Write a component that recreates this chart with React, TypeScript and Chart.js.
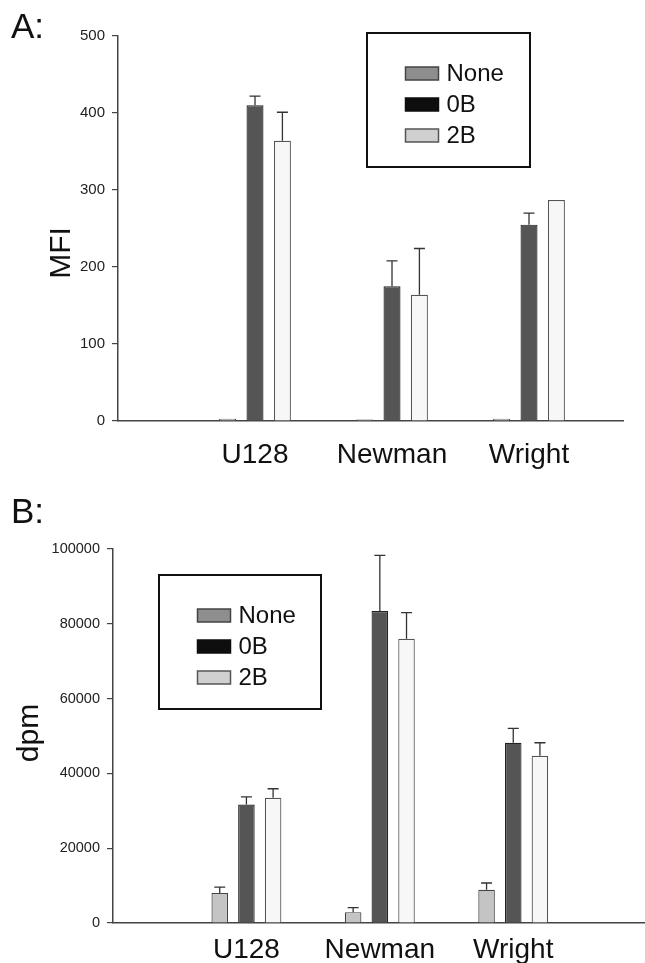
import React, { useEffect, useRef } from "react";
import { Chart, registerables } from "chart.js";

Chart.register(...registerables);

// ---- Data ----
const categories = ["U128", "Newman", "Wright"];
const seriesNames = ["None", "0B", "2B"];

// Panel A: MFI
const mfiNone = [3, 2, 3];
const mfi0B = [410, 175, 255];
const mfi2B = [364, 164, 287];
const mfiNoneErr = [0, 0, 0];
const mfi0BErr = [12, 33, 15];
const mfi2BErr = [37, 60, 0];
const mfiTicks = [0, 100, 200, 300, 400, 500];

// Panel B: dpm
const dpmNone = [8000, 2900, 8900];
const dpm0B = [31700, 83400, 48200];
const dpm2B = [33500, 76000, 44700];
const dpmNoneErr = [1600, 1200, 1800];
const dpm0BErr = [2000, 14900, 3850];
const dpm2BErr = [2400, 7000, 3500];
const dpmTicks = [0, 20000, 40000, 60000, 80000, 100000];

const xTickValues = [0, 1, 2, 3];

// ---- Styles ----
const FONT = '"Liberation Sans", Arial, Helvetica, sans-serif';
const barFill = ["#c4c4c4", "#555555", "#f7f7f7"];
const barBorder = ["#444444", "#222222", "#555555"];
const legendFill = ["#8e8e8e", "#0e0e0e", "#d0d0d0"];
const legendBorder = ["#444444", "#0e0e0e", "#555555"];

const errorBarsPlugin = {
  id: "errorBars",
  afterDatasetsDraw(chart: any, _args: any, opts: any) {
    const { ctx } = chart;
    const yScale = chart.scales.y;
    chart.data.datasets.forEach((ds: any, di: number) => {
      const errs: number[] = ds.errors;
      if (!errs) return;
      const meta = chart.getDatasetMeta(di);
      meta.data.forEach((bar: any, i: number) => {
        const e = errs[i];
        if (!e) return;
        const v = ds.data[i].y;
        const yTop = yScale.getPixelForValue(v + e);
        ctx.save();
        ctx.strokeStyle = opts.color || "#333";
        ctx.lineWidth = opts.width || 1.3;
        ctx.beginPath();
        ctx.moveTo(bar.x, bar.y);
        ctx.lineTo(bar.x, yTop);
        ctx.moveTo(bar.x - (opts.cap || 11) / 2, yTop);
        ctx.lineTo(bar.x + (opts.cap || 11) / 2, yTop);
        ctx.stroke();
        ctx.restore();
      });
    });
  },
};

const boxLegendPlugin = {
  id: "boxLegend",
  afterDraw(chart: any, _args: any, o: any) {
    const ctx = chart.ctx;
    ctx.save();
    ctx.lineWidth = 2;
    ctx.strokeStyle = "#111";
    ctx.strokeRect(o.x, o.y, o.w, o.h);
    chart.data.datasets.forEach((ds: any, i: number) => {
      const sx = o.x + 38.5;
      const sy = o.y + 34 + i * 31;
      ctx.fillStyle = legendFill[i];
      ctx.fillRect(sx, sy, 33, 13);
      ctx.strokeStyle = legendBorder[i];
      ctx.lineWidth = 1.5;
      ctx.strokeRect(sx, sy, 33, 13);
      ctx.fillStyle = "#111";
      ctx.font = `24px ${FONT}`;
      ctx.textAlign = "left";
      ctx.textBaseline = "middle";
      ctx.fillText(ds.label, sx + 41, sy + 7.5);
    });
    ctx.restore();
  },
};

const annotPlugin = {
  id: "annot",
  afterDraw(chart: any, _args: any, o: any) {
    const ctx = chart.ctx;
    (o.items || []).forEach((it: any) => {
      ctx.save();
      ctx.fillStyle = "#111";
      ctx.font = `${it.size}px ${FONT}`;
      ctx.translate(it.x, it.y);
      if (it.rotate) ctx.rotate(it.rotate);
      ctx.textAlign = it.align || "center";
      ctx.textBaseline = it.baseline || "middle";
      ctx.fillText(it.text, 0, 0);
      ctx.restore();
    });
  },
};

function makeDatasets(vals: number[][], errs: number[][]) {
  return seriesNames.map((name, s) => ({
    label: name,
    data: vals[s].map((v, i) => ({ x: i + 1, y: v })),
    errors: errs[s],
    backgroundColor: barFill[s],
    borderColor: barBorder[s],
    borderWidth: 1.2,
    categoryPercentage: 0.6,
    barPercentage: 0.62,
  }));
}

function makeConfig(p: {
  vals: number[][];
  errs: number[][];
  yTicks: number[];
  xMax: number;
  yWidth: number;
  xHeight: number;
  padTop: number;
  padRight: number;
  yFont: number;
  xPad: number;
  legend: any;
  items: any[];
}): any {
  return {
    type: "bar",
    data: { datasets: makeDatasets(p.vals, p.errs) },
    plugins: [errorBarsPlugin, boxLegendPlugin, annotPlugin],
    options: {
      responsive: true,
      maintainAspectRatio: false,
      animation: false,
      layout: { padding: { top: p.padTop, right: p.padRight, left: 0, bottom: 0 } },
      plugins: {
        legend: { display: false },
        tooltip: { enabled: false },
        errorBars: { color: "#333", width: 1.3, cap: 11 },
        boxLegend: p.legend,
        annot: { items: p.items },
      },
      scales: {
        x: {
          type: "linear",
          offset: false,
          min: 0,
          max: p.xMax,
          afterBuildTicks: (s: any) => {
            s.ticks = xTickValues.map((v) => ({ value: v }));
          },
          afterFit: (s: any) => {
            s.height = p.xHeight;
          },
          grid: { display: false, drawTicks: false, offset: false },
          border: { display: true, color: "#444", width: 1.5 },
          ticks: {
            includeBounds: false,
            autoSkip: false,
            maxRotation: 0,
            padding: p.xPad,
            color: "#111",
            font: { family: FONT, size: 28 },
            callback: (v: any) => categories[Number(v) - 1] ?? "",
          },
        },
        y: {
          min: p.yTicks[0],
          max: p.yTicks[p.yTicks.length - 1],
          afterBuildTicks: (s: any) => {
            s.ticks = p.yTicks.map((v) => ({ value: v }));
          },
          afterFit: (s: any) => {
            s.width = p.yWidth;
          },
          grid: {
            drawOnChartArea: false,
            drawTicks: true,
            tickLength: 6,
            color: "#444",
            lineWidth: 1.2,
          },
          border: { display: true, color: "#444", width: 1.5 },
          ticks: {
            padding: 7,
            color: "#222",
            font: { family: FONT, size: p.yFont },
            callback: (v: any) => String(v),
          },
        },
      },
    },
  };
}

export default function App() {
  const refA = useRef<HTMLCanvasElement | null>(null);
  const refB = useRef<HTMLCanvasElement | null>(null);

  useEffect(() => {
    if (!refA.current || !refB.current) return;
    const chartA = new Chart(
      refA.current,
      makeConfig({
        vals: [mfiNone, mfi0B, mfi2B],
        errs: [mfiNoneErr, mfi0BErr, mfi2BErr],
        yTicks: mfiTicks,
        xMax: 3.686,
        yWidth: 118,
        xHeight: 59,
        padTop: 36,
        padRight: 22,
        yFont: 15,
        xPad: 17,
        legend: { x: 367, y: 33, w: 163, h: 134 },
        items: [
          { text: "A:", x: 11, y: 38, size: 35, align: "left", baseline: "alphabetic" },
          { text: "MFI", x: 62, y: 253, size: 30, rotate: -Math.PI / 2 },
        ],
      })
    );
    const chartB = new Chart(
      refB.current,
      makeConfig({
        vals: [dpmNone, dpm0B, dpm2B],
        errs: [dpmNoneErr, dpm0BErr, dpm2BErr],
        yTicks: dpmTicks,
        xMax: 3.98,
        yWidth: 113,
        xHeight: 40,
        padTop: 69,
        padRight: 1,
        yFont: 14.5,
        xPad: 10,
        legend: { x: 159, y: 95, w: 162, h: 134 },
        items: [
          { text: "B:", x: 11, y: 43, size: 35, align: "left", baseline: "alphabetic" },
          { text: "dpm", x: 30, y: 253, size: 30, rotate: -Math.PI / 2 },
        ],
      })
    );
    return () => {
      chartA.destroy();
      chartB.destroy();
    };
  }, []);

  return (
    <div
      style={{
        position: "absolute",
        left: 0,
        top: 0,
        width: 645,
        height: 963,
        background: "#ffffff",
        overflow: "hidden",
      }}
    >
      <div style={{ position: "relative", width: 645, height: 480 }}>
        <canvas ref={refA} style={{ display: "block" }} />
      </div>
      <div style={{ position: "relative", width: 645, height: 483 }}>
        <canvas ref={refB} style={{ display: "block" }} />
      </div>
    </div>
  );
}
